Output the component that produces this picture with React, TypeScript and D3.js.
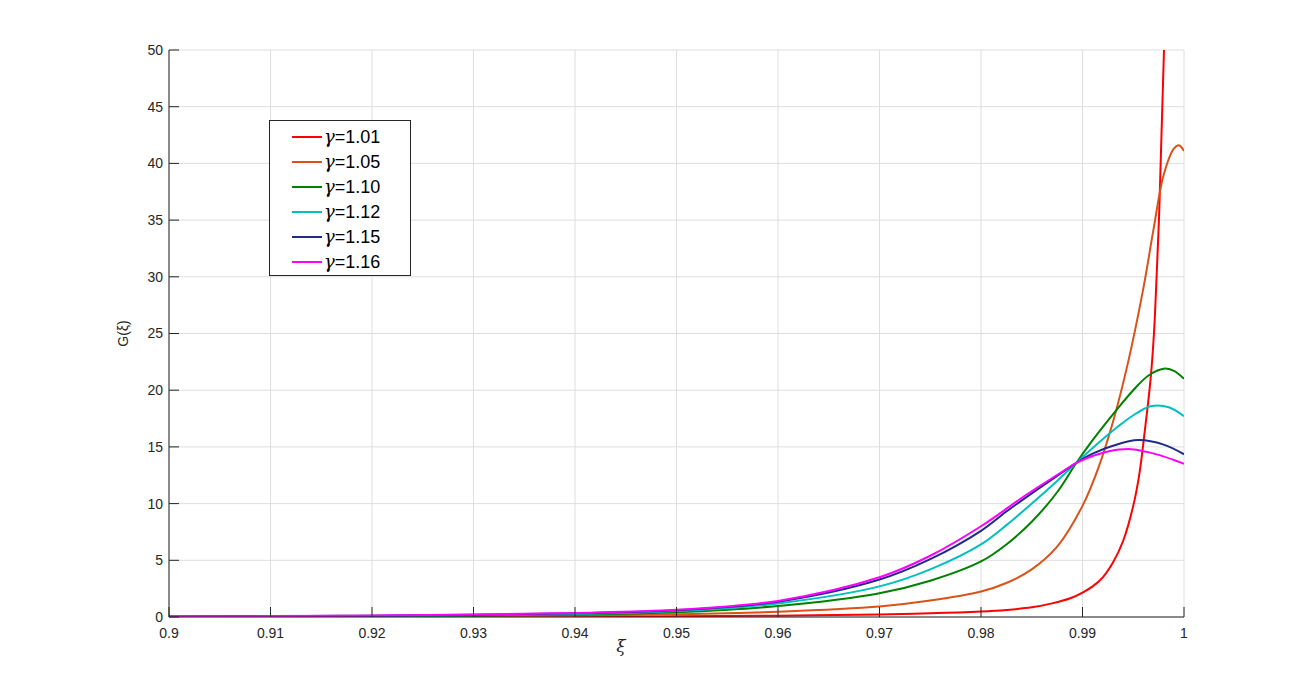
import React from 'react';
import * as d3 from 'd3';

// xi sample points and G(xi) values, one pair per gamma
const xiRed = [0.9, 0.92, 0.94, 0.95, 0.96, 0.97, 0.975, 0.98, 0.9825, 0.985, 0.987, 0.9888, 0.99, 0.991, 0.992, 0.993, 0.994, 0.995, 0.9956, 0.99615, 0.99671, 0.99704, 0.9973, 0.99753, 0.9977, 0.99803, 0.9985];
const gRed = [0.005, 0.01, 0.03, 0.06, 0.12, 0.23, 0.32, 0.48, 0.62, 0.85, 1.2, 1.65, 2.15, 2.7, 3.5, 4.8, 6.7, 9.8, 12.6, 16.5, 21, 25, 30, 35, 40, 50, 68];

const xiOrange = [0.9, 0.91, 0.92, 0.93, 0.94, 0.95, 0.96, 0.97, 0.975, 0.98, 0.9825, 0.985, 0.9875, 0.99, 0.9915, 0.993, 0.9945, 0.996, 0.997, 0.998, 0.999, 0.9995, 1.0];
const gOrange = [0.01, 0.02, 0.03, 0.06, 0.12, 0.24, 0.47, 0.93, 1.45, 2.25, 3.0, 4.2, 6.2, 9.8, 13.0, 17.2, 22.5, 29, 34.2, 39.0, 41.3, 41.6, 41.1];

const xiGreen = [0.9, 0.91, 0.92, 0.93, 0.94, 0.95, 0.96, 0.97, 0.975, 0.98, 0.9825, 0.985, 0.9875, 0.9894, 0.991, 0.9933, 0.995, 0.9965, 0.998, 0.999, 1.0];
const gGreen = [0.02, 0.04, 0.07, 0.12, 0.22, 0.42, 0.97, 2.1, 3.2, 4.9, 6.4, 8.4, 11.0, 13.6, 15.6, 18.2, 20.0, 21.3, 21.9, 21.7, 21.0];

const xiCyan = [0.9, 0.91, 0.92, 0.93, 0.94, 0.95, 0.96, 0.97, 0.975, 0.98, 0.9825, 0.985, 0.9875, 0.9894, 0.9915, 0.9935, 0.9952, 0.9968, 0.9985, 1.0];
const gCyan = [0.03, 0.05, 0.09, 0.15, 0.27, 0.52, 1.2, 2.7, 4.2, 6.4, 8.1, 10.0, 12.0, 13.6, 15.3, 16.8, 17.9, 18.6, 18.5, 17.7];

const xiNavy = [0.9, 0.91, 0.92, 0.93, 0.94, 0.95, 0.96, 0.97, 0.975, 0.98, 0.9825, 0.985, 0.9875, 0.9894, 0.991, 0.993, 0.9955, 0.998, 1.0];
const gNavy = [0.04, 0.07, 0.12, 0.2, 0.34, 0.6, 1.35, 3.3, 5.1, 7.6, 9.3, 10.9, 12.45, 13.6, 14.4, 15.1, 15.6, 15.2, 14.35];

const xiMagenta = [0.9, 0.91, 0.92, 0.93, 0.94, 0.95, 0.96, 0.97, 0.975, 0.98, 0.9845, 0.9878, 0.9894, 0.991, 0.9925, 0.9948, 0.9975, 1.0];
const gMagenta = [0.05, 0.08, 0.13, 0.22, 0.36, 0.63, 1.42, 3.5, 5.4, 8.0, 10.8, 12.7, 13.6, 14.2, 14.6, 14.8, 14.3, 13.5];

const gammaLabels = ['1.01', '1.05', '1.10', '1.12', '1.15', '1.16'];
const colors = ['#ff0000', '#d95319', '#008000', '#00bfbf', '#1f2a8a', '#ff00ff'];

const xTicks = [0.9, 0.91, 0.92, 0.93, 0.94, 0.95, 0.96, 0.97, 0.98, 0.99, 1];
const yTicks = [0, 5, 10, 15, 20, 25, 30, 35, 40, 45, 50];

const W = 1297;
const H = 673;
const left = 169;
const right = 1184;
const top = 50;
const bottom = 617;

export default function App() {
  const x = d3.scaleLinear().domain([0.9, 1]).range([left, right]);
  const y = d3.scaleLinear().domain([0, 50]).range([bottom, top]);

  const series = [
    [xiRed, gRed],
    [xiOrange, gOrange],
    [xiGreen, gGreen],
    [xiCyan, gCyan],
    [xiNavy, gNavy],
    [xiMagenta, gMagenta],
  ];

  const line = d3
    .line<[number, number]>()
    .x((d) => x(d[0]))
    .y((d) => y(d[1]))
    .curve(d3.curveCatmullRom.alpha(0.5));

  const axisColor = '#262626';
  const font = 'Liberation Sans, Arial, sans-serif';

  return (
    <svg
      width={W}
      height={H}
      style={{ position: 'absolute', left: 0, top: 0, background: '#fff' }}
      fontFamily={font}
    >
      <defs>
        <clipPath id="plot">
          <rect x={left} y={top} width={right - left} height={bottom - top} />
        </clipPath>
      </defs>

      {/* grid */}
      {xTicks.map((t) => (
        <line key={'gx' + t} x1={x(t)} x2={x(t)} y1={top} y2={bottom} stroke="#dedede" strokeWidth={1} />
      ))}
      {yTicks.map((t) => (
        <line key={'gy' + t} x1={left} x2={right} y1={y(t)} y2={y(t)} stroke="#dedede" strokeWidth={1} />
      ))}

      {/* curves */}
      <g clipPath="url(#plot)">
        {series.map(([xs, gs], i) => (
          <path
            key={i}
            d={line(xs.map((v, j) => [v, gs[j]] as [number, number])) || ''}
            fill="none"
            stroke={colors[i]}
            strokeWidth={2}
          />
        ))}
      </g>

      {/* axes */}
      <line x1={left} x2={left} y1={top} y2={bottom} stroke={axisColor} strokeWidth={1} />
      <line x1={left} x2={right} y1={bottom} y2={bottom} stroke={axisColor} strokeWidth={1} />
      {yTicks.map((t) => (
        <g key={'ty' + t}>
          <line x1={left} x2={left + 10} y1={y(t)} y2={y(t)} stroke={axisColor} />
          <text x={left - 6} y={y(t)} dy="0.35em" textAnchor="end" fontSize={14} fill={axisColor}>
            {t}
          </text>
        </g>
      ))}
      {xTicks.map((t) => (
        <g key={'tx' + t}>
          <line x1={x(t)} x2={x(t)} y1={bottom} y2={bottom - 10} stroke={axisColor} />
          <text x={x(t)} y={bottom + 21} textAnchor="middle" fontSize={14} fill={axisColor}>
            {d3.format('~g')(t)}
          </text>
        </g>
      ))}

      {/* axis labels */}
      <text
        x={621}
        y={652}
        textAnchor="middle"
        fontSize={17}
        fontStyle="italic"
        fontFamily="DejaVu Serif, serif"
        fill={axisColor}
      >
        ξ
      </text>
      <text
        transform={`translate(128, ${(top + bottom) / 2}) rotate(-90)`}
        textAnchor="middle"
        fontSize={14}
        fill={axisColor}
      >
        G(ξ)
      </text>

      {/* legend */}
      <rect x={269.5} y={120.5} width={141} height={155} fill="#fff" stroke={axisColor} strokeWidth={1} />
      {gammaLabels.map((g, i) => {
        const ly = 137 + i * 25;
        return (
          <g key={'lg' + g}>
            <line x1={292} x2={322} y1={ly} y2={ly} stroke={colors[i]} strokeWidth={2} />
            <text x={324} y={ly} dy="0.35em" fontSize={18} fill="#000">
              <tspan fontStyle="italic" fontFamily="DejaVu Serif, serif">γ</tspan>
              <tspan>={g}</tspan>
            </text>
          </g>
        );
      })}
    </svg>
  );
}
